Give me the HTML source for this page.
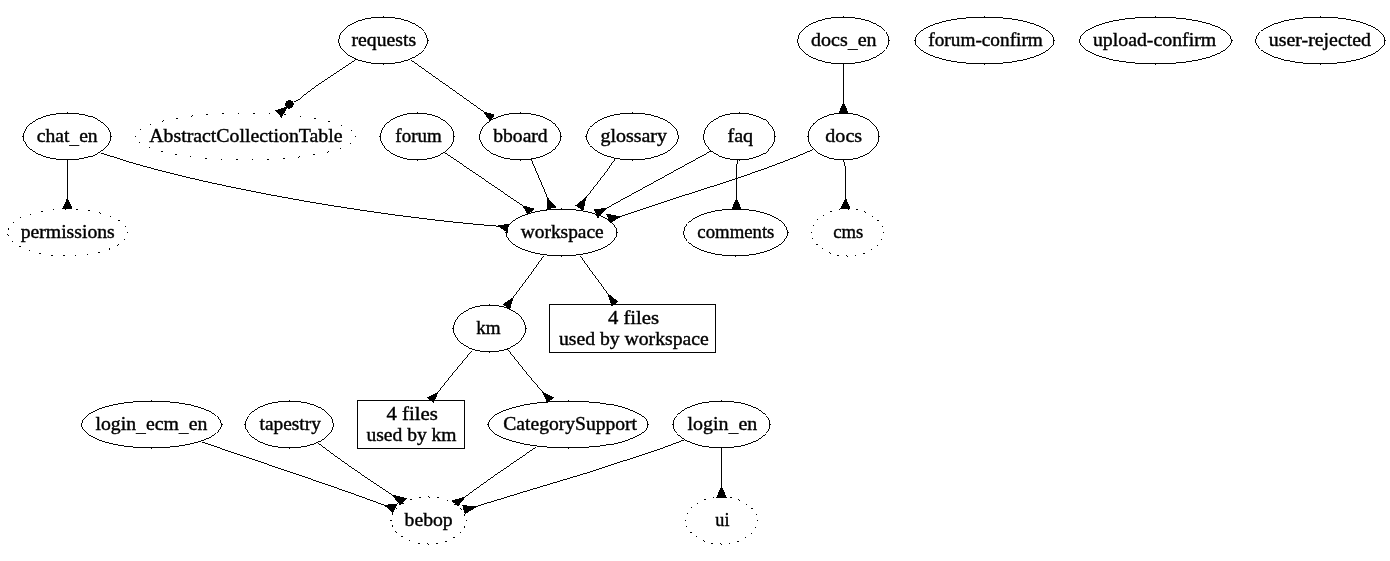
<!DOCTYPE html>
<html><head><meta charset="utf-8"><title>graph</title>
<style>
html,body{margin:0;padding:0;background:#fff;}
body{width:1390px;height:561px;overflow:hidden;}
svg{display:block;filter:grayscale(1);}
text{font-family:"Liberation Serif",serif;font-size:18.67px;fill:#000;stroke:#000;stroke-width:0.4px;}
</style></head><body>
<svg width="1390" height="561" viewBox="0 0 1390 561">
<rect width="1390" height="561" fill="#fff"/>
<g fill="none" stroke="#000" stroke-width="0.99" shape-rendering="crispEdges">
<ellipse cx="383.1" cy="40.5" rx="44.45" ry="23.45"/>
<ellipse cx="843.3" cy="40.5" rx="45.650000000000006" ry="23.45"/>
<ellipse cx="984.5" cy="40.5" rx="69.45" ry="23.45"/>
<ellipse cx="1155.6" cy="40.5" rx="75.95" ry="23.45"/>
<ellipse cx="1320.3" cy="40.5" rx="64.65" ry="23.45"/>
<ellipse cx="67.2" cy="136.5" rx="43.75" ry="23.45"/>
<ellipse cx="417.2" cy="136.5" rx="36.75" ry="23.45"/>
<ellipse cx="520.3" cy="136.5" rx="40.650000000000006" ry="23.45"/>
<ellipse cx="632.4" cy="136.5" rx="45.95" ry="23.45"/>
<ellipse cx="739.3" cy="136.5" rx="35.650000000000006" ry="23.45"/>
<ellipse cx="843.5" cy="136.5" rx="35.45" ry="23.45"/>
<ellipse cx="561.5" cy="232.5" rx="55.45" ry="23.45"/>
<ellipse cx="735.6" cy="232.5" rx="51.95" ry="23.45"/>
<ellipse cx="489.5" cy="328.5" rx="36.050000000000004" ry="23.45"/>
<ellipse cx="151.6" cy="424.5" rx="69.95" ry="23.45"/>
<ellipse cx="289.4" cy="424.5" rx="43.95" ry="23.45"/>
<ellipse cx="568.2" cy="424.5" rx="79.75" ry="23.45"/>
<ellipse cx="721.5" cy="424.5" rx="48.45" ry="23.45"/>
<rect x="549.5" y="304.5" width="166.0" height="48.0"/>
<rect x="357.5" y="400.5" width="107.0" height="48.0"/>
<path d="M356,59.6 L319,84 L303.7,95.4 L299.2,99.6 L293.9,101.9"/>
<path d="M411,60 L484,112"/>
<path d="M67.5,160 L67.5,199"/>
<path d="M101,153 C200,187 380,217 498.6,226.2"/>
<path d="M444,152 L523,206"/>
<path d="M531,159 C538,176 543,186 547.4,198"/>
<path d="M615,159 C608,170 596,185 585.7,198"/>
<path d="M711,151 L605.8,208.6"/>
<path d="M813,149.6 C805,153 780,165 698,191 C660,203 645,208.5 619.9,216.7"/>
<path d="M843.5,64 L843.5,103"/>
<path d="M737.6,160 L736.5,168 L736.5,199"/>
<path d="M843.6,160 L845.6,168 L845.6,199"/>
<path d="M544,255.6 C535,268 525,282 512.8,298"/>
<path d="M580,255.6 C590,270 600,283 608,294"/>
<path d="M472,350.6 C460,365 448,379 437.8,392.6"/>
<path d="M507.4,349 C520,365 532,380 543,392.4"/>
<path d="M202,442 C260,462 330,485 385,505.4"/>
<path d="M318,443 C340,460 365,477 393,495.4"/>
<path d="M536,447 C515,462 490,478 465,497"/>
<path d="M684,440 L660,449 L590,472 L530,490 L476,506.5"/>
<path d="M721.5,448 L721.5,487"/>
</g>
<g fill="#000" stroke="none" shape-rendering="crispEdges">
<path d="M135,136h1v1h-1zM139,142h1v1h-1zM140,129h1v1h-1zM149,147h1v1h-1zM150,124h1v1h-1zM161,151h1v1h-1zM162,121h1v1h-1zM162,151h1v1h-1zM163,120h1v1h-1zM175,154h1v1h-1zM176,118h1v1h-1zM176,154h1v1h-1zM177,118h1v1h-1zM190,156h1v1h-1zM191,116h1v1h-1zM192,115h1v1h-1zM205,158h1v1h-1zM206,114h1v1h-1zM206,158h1v1h-1zM207,114h1v1h-1zM221,159h1v1h-1zM222,113h1v1h-1zM223,113h1v1h-1zM236,159h1v1h-1zM237,159h1v1h-1zM238,113h1v1h-1zM252,159h1v1h-1zM253,113h1v1h-1zM254,113h1v1h-1zM267,159h1v1h-1zM268,159h1v1h-1zM269,113h1v1h-1zM283,158h1v1h-1zM284,114h1v1h-1zM284,158h1v1h-1zM285,114h1v1h-1zM298,157h1v1h-1zM299,156h1v1h-1zM300,116h1v1h-1zM313,154h1v1h-1zM314,118h1v1h-1zM314,154h1v1h-1zM315,118h1v1h-1zM327,152h1v1h-1zM328,121h1v1h-1zM328,151h1v1h-1zM329,121h1v1h-1zM340,148h1v1h-1zM341,125h1v1h-1zM350,143h1v1h-1zM351,130h1v1h-1zM355,136h1v1h-1z"/>
<path d="M7,234h1v1h-1zM8,228h1v1h-1zM8,229h1v1h-1zM8,235h1v1h-1zM12,241h1v1h-1zM13,222h1v1h-1zM19,246h1v1h-1zM20,217h1v1h-1zM20,246h1v1h-1zM29,250h1v1h-1zM30,214h1v1h-1zM39,253h1v1h-1zM40,253h1v1h-1zM41,211h1v1h-1zM42,211h1v1h-1zM51,255h1v1h-1zM52,255h1v1h-1zM53,209h1v1h-1zM63,255h1v1h-1zM64,255h1v1h-1zM65,209h1v1h-1zM75,255h1v1h-1zM76,209h1v1h-1zM77,209h1v1h-1zM87,254h1v1h-1zM88,210h1v1h-1zM89,210h1v1h-1zM98,252h1v1h-1zM99,212h1v1h-1zM99,252h1v1h-1zM100,213h1v1h-1zM109,248h1v1h-1zM109,249h1v1h-1zM110,216h1v1h-1zM117,245h1v1h-1zM118,220h1v1h-1zM118,244h1v1h-1zM119,220h1v1h-1zM124,239h1v1h-1zM125,226h1v1h-1zM127,232h1v1h-1z"/>
<path d="M811,232h1v1h-1zM812,238h1v1h-1zM813,225h1v1h-1zM816,244h1v1h-1zM817,219h1v1h-1zM817,244h1v1h-1zM822,248h1v1h-1zM823,215h1v1h-1zM829,252h1v1h-1zM830,211h1v1h-1zM830,253h1v1h-1zM831,211h1v1h-1zM837,255h1v1h-1zM838,255h1v1h-1zM839,209h1v1h-1zM846,255h1v1h-1zM847,208h1v1h-1zM847,256h1v1h-1zM848,209h1v1h-1zM855,255h1v1h-1zM856,209h1v1h-1zM857,209h1v1h-1zM863,253h1v1h-1zM864,211h1v1h-1zM864,253h1v1h-1zM865,212h1v1h-1zM871,249h1v1h-1zM872,216h1v1h-1zM877,220h1v1h-1zM877,245h1v1h-1zM878,220h1v1h-1zM881,239h1v1h-1zM882,226h1v1h-1zM883,232h1v1h-1z"/>
<path d="M390,520h1v1h-1zM391,520h1v1h-1zM392,513h1v1h-1zM392,514h1v1h-1zM392,525h1v1h-1zM392,526h1v1h-1zM395,531h1v1h-1zM396,508h1v1h-1zM396,532h1v1h-1zM401,536h1v1h-1zM402,503h1v1h-1zM402,536h1v1h-1zM403,503h1v1h-1zM409,540h1v1h-1zM410,499h1v1h-1zM411,499h1v1h-1zM418,543h1v1h-1zM419,497h1v1h-1zM419,543h1v1h-1zM420,497h1v1h-1zM427,543h1v1h-1zM428,496h1v1h-1zM428,544h1v1h-1zM429,497h1v1h-1zM436,543h1v1h-1zM437,497h1v1h-1zM437,543h1v1h-1zM438,497h1v1h-1zM445,541h1v1h-1zM446,541h1v1h-1zM447,500h1v1h-1zM453,537h1v1h-1zM454,504h1v1h-1zM454,537h1v1h-1zM455,504h1v1h-1zM460,508h1v1h-1zM460,532h1v1h-1zM461,509h1v1h-1zM464,514h1v1h-1zM464,515h1v1h-1zM464,526h1v1h-1zM464,527h1v1h-1zM466,520h1v1h-1z"/>
<path d="M685,520h1v1h-1zM686,526h1v1h-1zM687,513h1v1h-1zM690,532h1v1h-1zM691,507h1v1h-1zM691,532h1v1h-1zM696,536h1v1h-1zM697,503h1v1h-1zM703,540h1v1h-1zM704,499h1v1h-1zM704,541h1v1h-1zM705,499h1v1h-1zM711,543h1v1h-1zM712,543h1v1h-1zM713,497h1v1h-1zM720,543h1v1h-1zM721,496h1v1h-1zM721,544h1v1h-1zM722,497h1v1h-1zM729,543h1v1h-1zM730,497h1v1h-1zM731,497h1v1h-1zM737,541h1v1h-1zM738,499h1v1h-1zM738,541h1v1h-1zM739,500h1v1h-1zM745,537h1v1h-1zM746,504h1v1h-1zM751,508h1v1h-1zM751,533h1v1h-1zM752,508h1v1h-1zM755,527h1v1h-1zM756,514h1v1h-1zM757,520h1v1h-1z"/>
<path d="M383,16h1v1h-1zM383,64h1v1h-1zM338,40h1v1h-1zM428,40h1v1h-1zM843,16h1v1h-1zM843,64h1v1h-1zM797,40h1v1h-1zM889,40h1v1h-1zM984,16h1v1h-1zM984,64h1v1h-1zM914,40h1v1h-1zM1054,40h1v1h-1zM1155,16h1v1h-1zM1155,64h1v1h-1zM1079,40h1v1h-1zM1232,40h1v1h-1zM1320,16h1v1h-1zM1320,64h1v1h-1zM1255,40h1v1h-1zM1385,40h1v1h-1zM67,112h1v1h-1zM67,160h1v1h-1zM22,136h1v1h-1zM111,136h1v1h-1zM417,112h1v1h-1zM417,160h1v1h-1zM379,136h1v1h-1zM454,136h1v1h-1zM520,112h1v1h-1zM520,160h1v1h-1zM479,136h1v1h-1zM561,136h1v1h-1zM632,112h1v1h-1zM632,160h1v1h-1zM585,136h1v1h-1zM678,136h1v1h-1zM739,112h1v1h-1zM739,160h1v1h-1zM703,136h1v1h-1zM775,136h1v1h-1zM843,112h1v1h-1zM843,160h1v1h-1zM807,136h1v1h-1zM879,136h1v1h-1zM561,208h1v1h-1zM561,256h1v1h-1zM505,232h1v1h-1zM617,232h1v1h-1zM735,208h1v1h-1zM735,256h1v1h-1zM683,232h1v1h-1zM788,232h1v1h-1zM489,304h1v1h-1zM489,352h1v1h-1zM452,328h1v1h-1zM526,328h1v1h-1zM151,400h1v1h-1zM151,448h1v1h-1zM81,424h1v1h-1zM222,424h1v1h-1zM289,400h1v1h-1zM289,448h1v1h-1zM244,424h1v1h-1zM333,424h1v1h-1zM568,400h1v1h-1zM568,448h1v1h-1zM487,424h1v1h-1zM648,424h1v1h-1zM721,400h1v1h-1zM721,448h1v1h-1zM672,424h1v1h-1zM770,424h1v1h-1z"/>
<path d="M287.2,107.2 L276,110.5 L281.4,116.8 Z" stroke="#000" stroke-width="1"/>
<circle cx="289.4" cy="104.4" r="4.3"/>
<path d="M484,112 L494.2,115 L490,120.7 Z" stroke="#000" stroke-width="1"/>
<path d="M67.5,198.5 L63,208.6 L72,208.6 Z" stroke="#000" stroke-width="1"/>
<path d="M498.6,226 L508.1,224.2 L507.6,232.3 Z" stroke="#000" stroke-width="1"/>
<path d="M523,206 L533.6,209 L528,214 Z" stroke="#000" stroke-width="1"/>
<path d="M547.4,198 L555.6,207 L547,209 Z" stroke="#000" stroke-width="1"/>
<path d="M585.7,198 L576.1,205.6 L583,210.1 Z" stroke="#000" stroke-width="1"/>
<path d="M605.8,208.6 L594.7,209.6 L597.8,217.7 Z" stroke="#000" stroke-width="1"/>
<path d="M619.9,216.7 L606.8,214.2 L610.3,222.7 Z" stroke="#000" stroke-width="1"/>
<path d="M843.5,102.5 L839,113 L848,113 Z" stroke="#000" stroke-width="1"/>
<path d="M736.5,198.5 L732,209 L741,209 Z" stroke="#000" stroke-width="1"/>
<path d="M845.6,198.5 L841,208.6 L850,208.6 Z" stroke="#000" stroke-width="1"/>
<path d="M512.8,298 L503.6,304.2 L509.6,309.3 Z" stroke="#000" stroke-width="1"/>
<path d="M608,294 L617.4,301.6 L612,306 Z" stroke="#000" stroke-width="1"/>
<path d="M437.8,392.6 L428.1,397.7 L433.5,402.4 Z" stroke="#000" stroke-width="1"/>
<path d="M543,392.4 L553,397.7 L547.3,402.4 Z" stroke="#000" stroke-width="1"/>
<path d="M385,505.4 L397,504 L393,512.4 Z" stroke="#000" stroke-width="1"/>
<path d="M393,495.4 L406,498.4 L400,504.6 Z" stroke="#000" stroke-width="1"/>
<path d="M465,497 L452.4,501 L458,505.6 Z" stroke="#000" stroke-width="1"/>
<path d="M476,507 L463,505.6 L465,513.4 Z" stroke="#000" stroke-width="1"/>
<path d="M721.5,486.5 L717,497 L726,497 Z" stroke="#000" stroke-width="1"/>
</g>
<g opacity="0.999">
<text x="351.52" y="46.0" textLength="64.55" lengthAdjust="spacingAndGlyphs">requests</text>
<text x="811.06" y="46.0" textLength="65.49" lengthAdjust="spacingAndGlyphs">docs<tspan dy="2.2" stroke-width="0.1">_</tspan><tspan dy="-2.2">en</tspan></text>
<text x="928.33" y="46.0" textLength="114.48" lengthAdjust="spacingAndGlyphs">forum-confirm</text>
<text x="1092.91" y="46.0" textLength="123.27" lengthAdjust="spacingAndGlyphs">upload-confirm</text>
<text x="1268.89" y="46.0" textLength="102.10" lengthAdjust="spacingAndGlyphs">user-rejected</text>
<text x="36.74" y="142.0" textLength="60.88" lengthAdjust="spacingAndGlyphs">chat<tspan dy="2.2" stroke-width="0.1">_</tspan><tspan dy="-2.2">en</tspan></text>
<text x="149.31" y="142.0" textLength="193.25" lengthAdjust="spacingAndGlyphs">AbstractCollectionTable</text>
<text x="395.39" y="142.0" textLength="46.21" lengthAdjust="spacingAndGlyphs">forum</text>
<text x="493.31" y="142.0" textLength="54.37" lengthAdjust="spacingAndGlyphs">bboard</text>
<text x="600.41" y="142.0" textLength="66.53" lengthAdjust="spacingAndGlyphs">glossary</text>
<text x="727.47" y="142.0" textLength="25.74" lengthAdjust="spacingAndGlyphs">faq</text>
<text x="825.37" y="142.0" textLength="36.72" lengthAdjust="spacingAndGlyphs">docs</text>
<text x="20.66" y="238.0" textLength="94.14" lengthAdjust="spacingAndGlyphs">permissions</text>
<text x="520.71" y="238.0" textLength="83.01" lengthAdjust="spacingAndGlyphs">workspace</text>
<text x="697.39" y="238.0" textLength="77.00" lengthAdjust="spacingAndGlyphs">comments</text>
<text x="833.28" y="238.0" textLength="30.09" lengthAdjust="spacingAndGlyphs">cms</text>
<text x="476.23" y="334.0" textLength="24.36" lengthAdjust="spacingAndGlyphs">km</text>
<text x="95.53" y="430.0" textLength="111.73" lengthAdjust="spacingAndGlyphs">login<tspan dy="2.2" stroke-width="0.1">_</tspan><tspan dy="-2.2">ecm</tspan><tspan dy="2.2" stroke-width="0.1">_</tspan><tspan dy="-2.2">en</tspan></text>
<text x="259.62" y="430.0" textLength="61.21" lengthAdjust="spacingAndGlyphs">tapestry</text>
<text x="503.34" y="430.0" textLength="133.65" lengthAdjust="spacingAndGlyphs">CategorySupport</text>
<text x="687.55" y="430.0" textLength="69.68" lengthAdjust="spacingAndGlyphs">login<tspan dy="2.2" stroke-width="0.1">_</tspan><tspan dy="-2.2">en</tspan></text>
<text x="404.60" y="526.0" textLength="48.11" lengthAdjust="spacingAndGlyphs">bebop</text>
<text x="715.37" y="526.0" textLength="14.16" lengthAdjust="spacingAndGlyphs">ui</text>
<text x="607.96" y="323.6" textLength="51.14" lengthAdjust="spacingAndGlyphs">4 files</text>
<text x="558.93" y="345.2" textLength="149.78" lengthAdjust="spacingAndGlyphs">used by workspace</text>
<text x="386.54" y="419.6" textLength="51.27" lengthAdjust="spacingAndGlyphs">4 files</text>
<text x="366.51" y="441.2" textLength="90.04" lengthAdjust="spacingAndGlyphs">used by km</text>
</g>
</svg>
</body></html>
